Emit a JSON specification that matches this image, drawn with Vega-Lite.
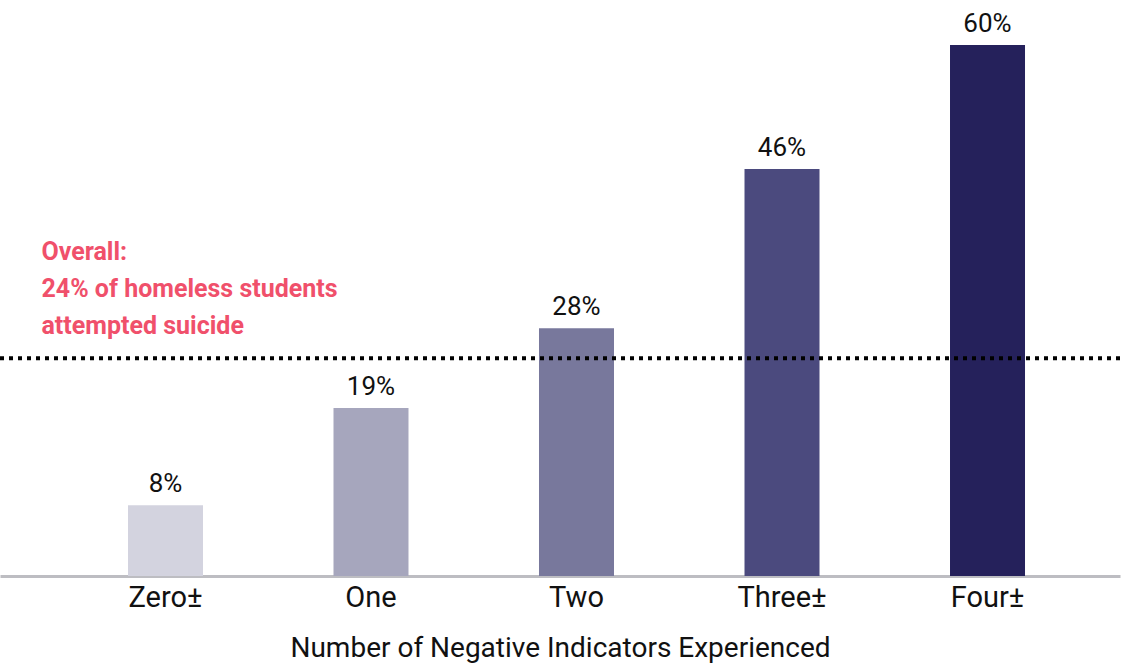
{
  "$schema": "https://vega.github.io/schema/vega-lite/v6.json",
  "width": 1120,
  "height": 576,
  "autosize": "none",
  "padding": {"left": 0, "top": 0, "right": 18, "bottom": 89},
  "background": "white",
  "config": {"view": {"stroke": null}, "font": "Roboto"},
  "datasets": {
    "bars": [
      {"indicators": "Zero±", "pct": 8, "label": "8%", "color": "#d3d3df"},
      {"indicators": "One", "pct": 19, "label": "19%", "color": "#a6a6bd"},
      {"indicators": "Two", "pct": 28, "label": "28%", "color": "#78789c"},
      {"indicators": "Three±", "pct": 46, "label": "46%", "color": "#4b4a7e"},
      {"indicators": "Four±", "pct": 60, "label": "60%", "color": "#25215b"}
    ],
    "overall": [{"pct": 24.6}],
    "note": [{"indicators": "Zero±", "pct": 38.0, "text": ["Overall:", "24% of homeless students", "attempted suicide"]}]
  },
  "layer": [
    {
      "data": {"name": "bars"},
      "mark": {"type": "bar", "width": 75},
      "encoding": {
        "x": {
          "field": "indicators", "type": "nominal", "sort": null,
          "scale": {"paddingInner": 0.635, "paddingOuter": 0.5425, "align": 0.574},
          "axis": {
            "title": "Number of Negative Indicators Experienced",
            "titleFont": "Roboto", "titleFontSize": 28, "titleFontWeight": "normal",
            "titleColor": "#111", "titlePadding": 22,
            "labelFont": "Roboto", "labelFontSize": 29, "labelColor": "#111",
            "labelAngle": 0, "labelPadding": 7, "ticks": false,
            "domainColor": "#bdbdc2", "domainWidth": 3
          }
        },
        "y": {"field": "pct", "type": "quantitative", "scale": {"domain": [0, 65.1], "nice": false}, "axis": null},
        "color": {"field": "color", "type": "nominal", "scale": null}
      }
    },
    {
      "data": {"name": "bars"},
      "mark": {"type": "text", "baseline": "alphabetic", "dy": -13, "fontSize": 26, "color": "#111", "font": "Roboto"},
      "encoding": {
        "x": {"field": "indicators", "type": "nominal", "sort": null},
        "y": {"field": "pct", "type": "quantitative"},
        "text": {"field": "label"}
      }
    },
    {
      "data": {"name": "overall"},
      "mark": {"type": "rule", "color": "#000", "strokeWidth": 4, "strokeDash": [4, 5]},
      "encoding": {"y": {"field": "pct", "type": "quantitative"}}
    },
    {
      "data": {"name": "note"},
      "mark": {"type": "text", "align": "left", "baseline": "top", "dx": -124, "fontSize": 25, "fontWeight": "bold", "lineHeight": 37, "color": "#f0506b", "font": "Roboto"},
      "encoding": {
        "x": {"field": "indicators", "type": "nominal", "sort": null},
        "y": {"field": "pct", "type": "quantitative"},
        "text": {"field": "text"}
      }
    }
  ]
}
